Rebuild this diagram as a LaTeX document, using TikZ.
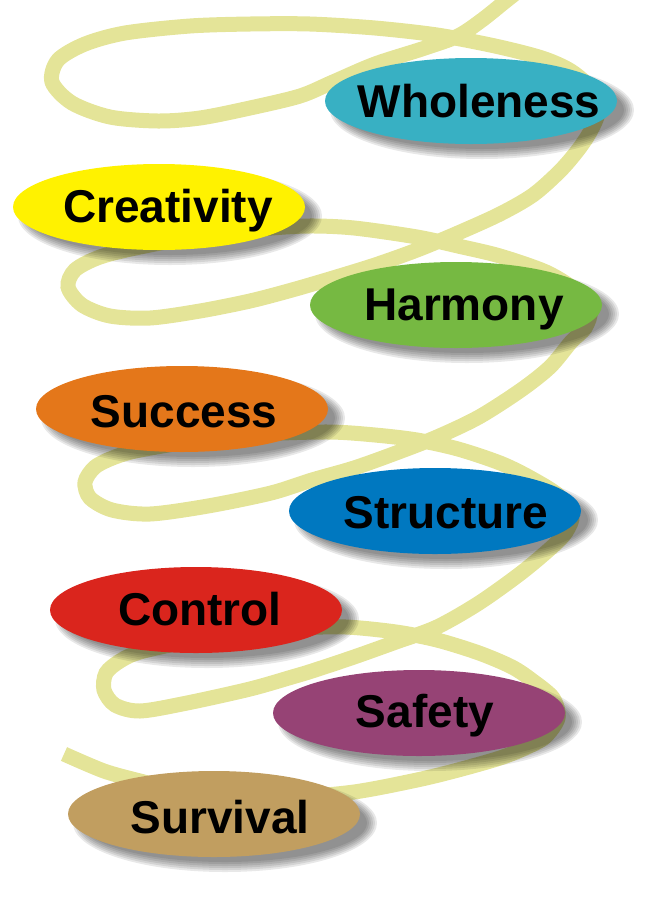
\documentclass[tikz,border=0pt]{standalone}
\usepackage{fontspec}
\setmainfont{Liberation Sans}
\usepackage{tikz}
\usetikzlibrary{shapes.geometric}

\definecolor{coil}{RGB}{228,228,152}
\definecolor{wholecol}{RGB}{56,176,195}
\definecolor{creatcol}{RGB}{255,242,0}
\definecolor{harmcol}{RGB}{118,185,66}
\definecolor{succcol}{RGB}{228,119,26}
\definecolor{structcol}{RGB}{0,120,192}
\definecolor{ctrlcol}{RGB}{218,37,29}
\definecolor{safecol}{RGB}{150,67,117}
\definecolor{survcol}{RGB}{193,158,96}

\begin{document}
\begin{tikzpicture}[x=1pt, y=-1pt,
  stage/.style={ellipse, minimum width=292pt, minimum height=86pt, inner sep=0pt, fill=#1},
  word/.style={font=\bfseries\fontsize{46}{50}\selectfont, text height=33pt, text depth=0pt, inner sep=0pt}]
\useasboundingbox (0,0) rectangle (650,922);
% the coil, drawn first so the stages cover it
\draw[coil, line width=15pt] plot[smooth] coordinates {
  (535,-22) (507,0) (482,20) (458,36) (425,48) (375,64) (333,82) (300,96)
  (250,108) (200,118) (158,121) (110,117) (72,103) (52,82) (58,60) (85,44)
  (125,33) (190,26) (250,24) (310,24) (375,28) (437,35) (495,46) (542,58)
  (571,71) (592,90) (598,112) (590,132) (578,150) (560,171) (533,195) (500,214)
  (458,233) (417,250) (375,265) (333,278) (292,290) (250,301) (200,311) (150,318)
  (110,316) (82,305) (68,287) (75,270) (100,257) (140,247) (200,236) (260,229)
  (308,226) (354,228) (417,237) (458,246) (500,256) (546,272) (575,290) (590,310)
  (585,328) (571,342) (550,367) (521,390) (479,417) (437,437) (396,453) (354,468)
  (312,480) (271,493) (208,506) (150,514) (112,510) (90,498) (85,482) (95,467)
  (115,457) (140,450) (200,440) (260,434) (329,432) (375,435) (417,440) (458,449)
  (500,463) (529,477) (558,495) (572,515) (566,532) (552,547) (521,573) (479,603)
  (437,627) (396,642) (354,657) (312,671) (292,677) (250,689) (187,703) (140,711)
  (115,705) (104,690) (106,673) (120,661) (140,652) (190,641) (250,633) (300,628)
  (346,627) (396,632) (437,640) (479,653) (512,667) (533,681) (553,698) (558,718)
  (545,737) (525,748) (500,758) (458,770) (417,780) (354,792) (290,797) (220,794)
  (170,788) (140,781) (104,771) (64,754)};
% soft shadows
\foreach \cx/\cy in {471/101, 159/207, 456/305, 182/409, 435/511, 196/610, 419/713, 214/814}
  \foreach \k in {0,...,5}
    \fill[black, opacity=0.09, shift={(11,9)}] (\cx,\cy) ellipse ({152-2*\k} and {49-2*\k});
% the stages
\node[stage=wholecol] (whole) at (471,101) {};
\node[word] (whole-txt) at (479,101) {Wholeness};
\node[stage=creatcol] (creat) at (159,207) {};
\node[word] (creat-txt) at (168,206) {Creativity};
\node[stage=harmcol] (harm) at (456,305) {};
\node[word] (harm-txt) at (464,304) {Harmony};
\node[stage=succcol] (succ) at (182,409) {};
\node[word] (succ-txt) at (184,411) {Success};
\node[stage=structcol] (struct) at (435,511) {};
\node[word] (struct-txt) at (446,512) {Structure};
\node[stage=ctrlcol] (ctrl) at (196,610) {};
\node[word] (ctrl-txt) at (200,609) {Control};
\node[stage=safecol] (safe) at (419,713) {};
\node[word] (safe-txt) at (425,711) {Safety};
\node[stage=survcol] (surv) at (214,814) {};
\node[word] (surv-txt) at (220,817) {Survival};
\end{tikzpicture}
\end{document}
